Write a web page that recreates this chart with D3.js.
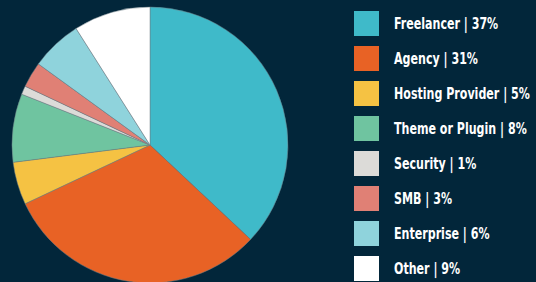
<!DOCTYPE html>
<html>
<head>
<meta charset="utf-8">
<script src="https://cdnjs.cloudflare.com/ajax/libs/d3/7.8.5/d3.min.js"></script>
<style>
  html, body { margin: 0; padding: 0; background: #02263a; }
  svg { display: block; }
  .legend-label { font-family: "DejaVu Sans Condensed", "DejaVu Sans", sans-serif; font-stretch: condensed; font-weight: bold; font-size: 16px; fill: #ffffff; }
</style>
</head>
<body>
<div id="chart"></div>
<script>
// categories + shares (percent)
var categories = ["Freelancer", "Agency", "Hosting Provider", "Theme or Plugin", "Security", "SMB", "Enterprise", "Other"];
var values = [37, 31, 5, 8, 1, 3, 6, 9];
var palette = ["#3fbac9", "#e86225", "#f5c243", "#6fc4a0", "#dcdbd8", "#e08075", "#8fd3dc", "#ffffff"];

var width = 536, height = 282;

var svg = d3.select("#chart").append("svg")
    .attr("width", width)
    .attr("height", height);

var data = categories.map(function(c, i){
  return {name: c, value: values[i]};
});

var color = d3.scaleOrdinal().domain(categories).range(palette);

var pie = d3.pie()
    .sort(null)
    .value(function(d){ return d.value; });

var arc = d3.arc()
    .innerRadius(0)
    .outerRadius(138);

var g = svg.append("g")
    .attr("transform", "translate(150,145)");

g.selectAll("path.slice")
    .data(pie(data))
  .enter().append("path")
    .attr("class", "slice")
    .attr("d", arc)
    .attr("fill", function(d){ return color(d.data.name); })
    .attr("stroke", "#6f7f86")
    .attr("stroke-width", 0.5);

// legend
var legendY = d3.scaleBand()
    .domain(categories)
    .range([11, 11 + 35 * categories.length]);

var rows = svg.selectAll(".legend-row")
    .data(data)
  .enter().append("g")
    .attr("class", "legend-row")
    .attr("transform", function(d){ return "translate(354," + legendY(d.name) + ")"; });

rows.append("rect")
    .attr("width", 25)
    .attr("height", 25)
    .attr("fill", function(d){ return color(d.name); });

// squeeze text horizontally to mimic the narrow display face
rows.append("text")
    .attr("class", "legend-label")
    .attr("transform", "translate(40,12.5) scale(0.77,1)")
    .attr("dy", "0.36em")
    .text(function(d){ return d.name + " | " + d.value + "%"; });
</script>
</body>
</html>
